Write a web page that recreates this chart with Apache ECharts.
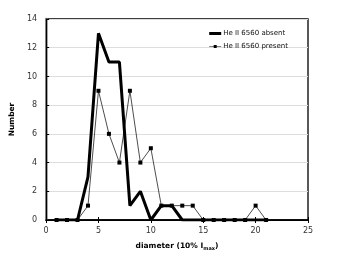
<!DOCTYPE html>
<html><head><meta charset="utf-8">
<script src="https://cdn.jsdelivr.net/npm/echarts@6/dist/echarts.min.js"></script>
<style>html,body{margin:0;padding:0;background:#fff}#c{width:341px;height:264px}</style>
</head><body><div id="c"></div>
<script>
const diameters = [1,2,3,4,5,6,7,8,9,10,11,12,13,14,15,16,17,18,19,20,21];
const absent   = [0,0,0,3,13,11,11,1,2,0,1,1,0,0,0,0,0,0,0,0,0];
const present  = [0,0,0,1,9,6,4,9,4,5,1,1,1,1,0,0,0,0,0,1,0];
const xTicks = [0,5,10,15,20,25];
const yTicks = [0,2,4,6,8,10,12,14];
const seriesNames = ['He II 6560 absent','He II 6560 present'];

const font = 'DejaVu Sans';
const chart = echarts.init(document.getElementById('c'));
chart.setOption({
  animation:false,
  backgroundColor:'#fff',
  grid:{left:43,right:33,top:19,bottom:44,show:true,borderColor:'#000',borderWidth:1.3},
  legend:{
    right:48, top:25, orient:'vertical', itemGap:6, itemWidth:12, itemHeight:3,
    textStyle:{fontFamily:font,fontSize:7,fontWeight:'normal',color:'#111',padding:[0,0,0,-3]},
    data:[
      {name:seriesNames[0], icon:'path://M0,0H12V3H0Z', itemStyle:{color:'#000'}},
      {name:seriesNames[1], icon:'path://M0,1.2H12V1.8H0Z M4.5,0H7.5V3H4.5Z', itemStyle:{color:'#000'}}
    ]
  },
  xAxis:[{
    type:'value', min:xTicks[0], max:xTicks[xTicks.length-1], interval:5,
    axisLine:{lineStyle:{color:'#000',width:1}},
    axisTick:{inside:true,length:3,lineStyle:{color:'#000'}},
    splitLine:{show:false},
    axisLabel:{fontFamily:font,fontSize:8,color:'#333',margin:7},
    name:'{b|diameter (10% I}{s|max}{b|)}', nameLocation:'middle', nameGap:22,
    nameTextStyle:{rich:{
      b:{fontFamily:font,fontSize:7.5,fontWeight:'bold',color:'#000'},
      s:{fontFamily:font,fontSize:5,fontWeight:'bold',color:'#000',verticalAlign:'bottom',padding:[4,0,0,0]}
    }}
  },{
    type:'value', position:'top', min:0, max:25, interval:5,
    axisLine:{show:true,lineStyle:{color:'#000',width:1.5}},
    axisTick:{inside:true,length:3,lineStyle:{color:'#000'}},
    axisLabel:{show:false}, splitLine:{show:false}
  }],
  yAxis:[{
    type:'value', min:yTicks[0], max:yTicks[yTicks.length-1], interval:2,
    axisLine:{show:true,lineStyle:{color:'#888',width:2.5}},
    axisTick:{show:true,inside:true,length:3,lineStyle:{color:'#000'}},
    splitLine:{show:true,lineStyle:{color:'#ddd',width:1}},
    axisLabel:{fontFamily:font,fontSize:8,color:'#333',margin:9},
    name:'Number', nameLocation:'middle', nameGap:22, nameRotate:90,
    nameTextStyle:{fontFamily:font,fontSize:7.5,fontWeight:'bold',color:'#000'}
  },{
    type:'value', position:'right', min:0, max:14, interval:2,
    axisLine:{show:true,lineStyle:{color:'#000',width:1}},
    axisTick:{show:true,inside:false,length:3,lineStyle:{color:'#000'}},
    axisLabel:{show:false}, splitLine:{show:false}
  }],
  series:[{
    name:seriesNames[1], type:'line', xAxisIndex:0, yAxisIndex:0,
    data:diameters.map((d,i)=>[d,present[i]]),
    symbol:'rect', symbolSize:4, showAllSymbol:true,
    lineStyle:{color:'#000',width:0.7}, itemStyle:{color:'#000'}, z:3
  },{
    name:seriesNames[0], type:'line', xAxisIndex:0, yAxisIndex:0,
    data:diameters.map((d,i)=>[d,absent[i]]),
    symbol:'none',
    lineStyle:{color:'#000',width:3}, itemStyle:{color:'#000'}, z:4
  }]
});
</script></body></html>
